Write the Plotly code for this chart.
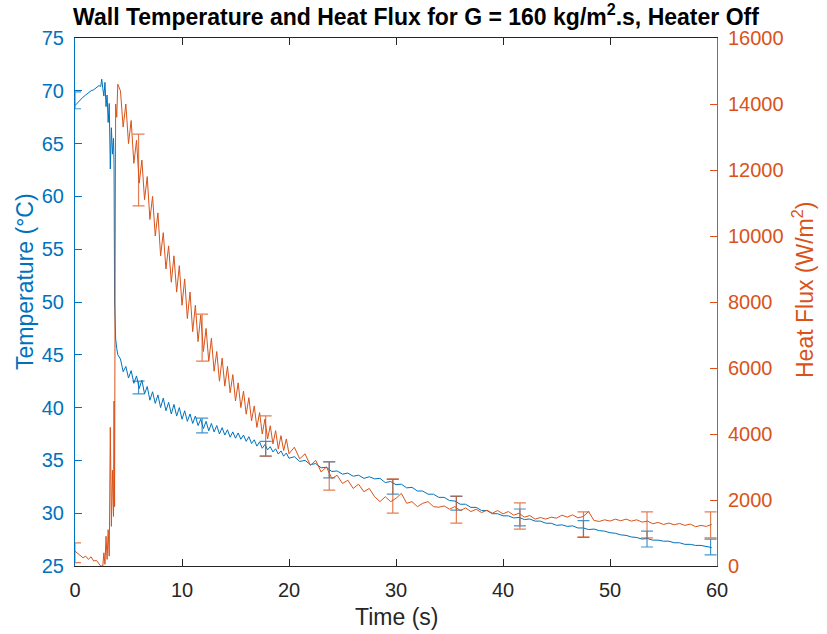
import plotly.graph_objects as go

# ---------------- data ----------------
time_A = [0.0, 0.25, 0.5, 0.75, 1.0, 1.25, 1.5, 1.75, 2.0, 2.25, 2.4, 2.5, 2.6, 2.7, 2.8,
          2.9, 3.0, 3.1, 3.2, 3.3, 3.4, 3.5, 3.6, 3.65, 3.7, 3.75, 3.8, 3.9, 4.0]
temp_A = [68.6, 68.9, 69.2, 69.4, 69.6, 69.8, 70.0, 70.1, 70.3, 70.5, 70.4, 71.1, 70.2, 69.5, 70.8,
          68.5, 69.6, 67.0, 68.8, 62.6, 66.5, 64.0, 65.5, 63.0, 50.0, 47.5, 46.5, 45.6, 45.0]
flux_A = [450, 380, 330, 250, 300, 200, 280, 150, 170, 60, 0, 0, 0, 400, 50,
          900, 200, 1100, 300, 4200, 1200, 2900, 1500, 5000, 1800, 9000, 14000, 13600, 14600]

time_B = [4.25, 4.5, 4.75, 5.0, 5.25, 5.5, 5.75, 6.0, 6.25, 6.5, 6.75, 7.0, 7.25, 7.5, 7.75, 8.0,
          8.25, 8.5, 8.75, 9.0, 9.25, 9.5, 9.75, 10.0, 10.25, 10.5, 10.75, 11.0, 11.25, 11.5, 11.75, 12.0,
          12.25, 12.5, 12.75, 13.0, 13.25, 13.5, 13.75, 14.0, 14.25, 14.5, 14.75, 15.0, 15.25, 15.5, 15.75, 16.0,
          16.25, 16.5, 16.75, 17.0, 17.25, 17.5, 17.75, 18.0, 18.25, 18.5, 18.75, 19.0, 19.25, 19.5, 19.75, 20.0]
temp_B = [44.6, 43.4, 43.9, 42.8, 43.5, 42.3, 43.0, 41.8, 42.6, 41.3,
          42.0, 40.7, 41.5, 40.4, 41.2, 40.0, 40.9, 39.7, 40.5, 39.4,
          40.3, 39.2, 40.0, 38.9, 39.7, 38.7, 39.4, 38.5, 39.2, 38.3,
          38.9, 38.0, 38.7, 37.8, 38.5, 37.7, 38.3, 37.5, 38.1, 37.4,
          37.9, 37.2, 37.7, 37.1, 37.6, 37.0, 37.4, 36.8, 37.25, 36.6,
          36.95, 36.35, 36.75, 36.15, 36.5, 36.0, 36.3, 35.8, 36.1, 35.6,
          35.9, 35.4, 35.7, 35.2]
flux_B = [14400, 13300, 14000, 12800, 13500, 12200, 12900, 11600, 12300, 11100,
          11800, 10500, 11200, 10000, 10700, 9400, 10100, 9000, 9700, 8600,
          9400, 8300, 9100, 7900, 8700, 7500, 8300, 7100, 7900, 6800,
          7600, 6500, 7200, 6200, 6900, 5900, 6500, 5600, 6300, 5450,
          6050, 5250, 5800, 5000, 5550, 4800, 5300, 4600, 5100, 4400,
          4850, 4200, 4650, 4000, 4450, 3850, 4250, 3700, 4100, 3550,
          3950, 3500, 3850, 3400]

time_C = [20.5, 21.0, 21.5, 22.0, 22.5, 23.0, 23.5, 24.0, 24.5, 25.0, 25.5, 26.0, 26.5, 27.0, 27.5,
          28.0, 28.5, 29.0, 29.5, 30.0, 30.5, 31.0, 31.5, 32.0, 32.5, 33.0, 33.5, 34.0, 34.5, 35.0,
          35.5, 36.0, 36.5, 37.0, 37.5, 38.0, 38.5, 39.0, 39.5, 40.0, 40.5, 41.0, 41.5, 42.0, 42.5,
          43.0, 43.5, 44.0, 44.5, 45.0, 45.5, 46.0, 46.5, 47.0, 47.5, 48.0, 48.5, 49.0, 49.5, 50.0,
          50.5, 51.0, 51.5, 52.0, 52.5, 53.0, 53.5, 54.0, 54.5, 55.0, 55.5, 56.0, 56.5, 57.0, 57.5,
          58.0, 58.5, 59.0, 59.5]
temp_C = [35.35, 34.9, 35.0, 34.6, 34.7, 34.3, 34.35, 33.95, 34.0, 33.7, 33.8, 33.5, 33.6, 33.3, 33.45,
          33.25, 33.3, 32.9, 33.0, 32.7, 32.75, 32.4, 32.45, 32.1, 32.1, 31.8, 31.8, 31.5, 31.5, 31.2,
          31.15, 30.85, 30.85, 30.55, 30.55, 30.25, 30.25, 29.95, 29.95, 29.75, 29.75, 29.55, 29.6, 29.4, 29.45,
          29.25, 29.25, 29.05, 29.05, 28.85, 28.9, 28.75, 28.8, 28.6, 28.6, 28.45, 28.5, 28.35, 28.3, 28.15,
          28.1, 27.95, 27.9, 27.75, 27.7, 27.55, 27.6, 27.45, 27.45, 27.35, 27.35, 27.2, 27.2, 27.05, 27.05,
          26.95, 26.95, 26.85, 26.75]
flux_C = [3600, 3250, 3400, 3050, 3200, 2850, 3000, 2650, 2750, 2500, 2600, 2350, 2480, 2250, 2350,
          2100, 1950, 2100, 1950, 2050, 2200, 1900, 1950, 1800, 1900, 1950, 1800, 1780, 1820, 1720,
          1800, 1680, 1760, 1650, 1720, 1620, 1690, 1600, 1680, 1580, 1650, 1540, 1600, 1480, 1530,
          1420, 1470, 1420, 1480, 1450, 1540, 1480, 1550, 1460, 1500, 1650, 1380, 1350, 1400, 1360,
          1420, 1370, 1420, 1360, 1400, 1330, 1360, 1280, 1320, 1260, 1300, 1250, 1290, 1230, 1270,
          1190, 1230, 1200, 1260]

# error bars
err_time = [0.0, 5.94, 11.88, 17.82, 23.76, 29.7, 35.64, 41.58, 47.52, 53.46, 59.4]
err_temp_mean = [69.1, 41.9, 38.3, 36.1, 34.1, 32.5, 30.95, 29.6, 28.5, 27.55, 26.8]
err_temp_half = [0.8, 0.6, 0.7, 0.7, 0.75, 0.7, 0.65, 0.8, 0.8, 0.75, 0.75]
err_flux_mean = [400, 12000, 6920, 3940, 2730, 2120, 1710, 1515, 1260, 1245, 1245]
err_flux_half = [300, 1090, 710, 610, 430, 520, 410, 395, 380, 395, 395]

time_s = time_A + time_B + time_C
temperature_C = temp_A + temp_B + temp_C
heat_flux = flux_A + flux_B + flux_C

BLUE = "#0072BD"
ORANGE = "#D95319"
FONT = "Liberation Sans, Arial, sans-serif"

fig = go.Figure()
fig.add_trace(go.Scatter(x=time_s, y=temperature_C, mode="lines",
                         line=dict(color=BLUE, width=1), yaxis="y", showlegend=False))
fig.add_trace(go.Scatter(x=err_time, y=err_temp_mean, mode="markers",
                         marker=dict(size=1, opacity=0, color=BLUE),
                         error_y=dict(type="data", array=err_temp_half, visible=True,
                                      color="rgba(0,114,189,0.75)", thickness=1.2, width=6),
                         yaxis="y", showlegend=False))
fig.add_trace(go.Scatter(x=time_s, y=heat_flux, mode="lines",
                         line=dict(color=ORANGE, width=1), yaxis="y2", showlegend=False))
fig.add_trace(go.Scatter(x=err_time, y=err_flux_mean, mode="markers",
                         marker=dict(size=1, opacity=0, color=ORANGE),
                         error_y=dict(type="data", array=err_flux_half, visible=True,
                                      color="rgba(217,83,25,0.75)", thickness=1.2, width=6),
                         yaxis="y2", showlegend=False))

# plot-area geometry in pixels (used only to place the axis-title annotations)
pl, pr, pt, pb = 75, 827 - 110, 38, 634 - 68
pw, ph = pr - pl, pb - pt

fig.update_layout(
    width=827, height=634,
    margin=dict(l=75, r=110, t=38, b=68),
    paper_bgcolor="white", plot_bgcolor="white",
    font=dict(family=FONT, size=20, color="#262626"),
    title=dict(text="<b>Wall Temperature and Heat Flux for G = 160 kg/m<sup>2</sup>.s, Heater Off</b>",
               x=0.503, xref="container", xanchor="center",
               y=1 - 16.5 / 634, yref="container", yanchor="middle",
               font=dict(family=FONT, size=23, color="black")),
    xaxis=dict(range=[0, 60], dtick=10, tick0=0, ticks="inside", ticklen=7,
               tickcolor="#262626", showline=True, linecolor="#262626", linewidth=1,
               mirror="ticks", showgrid=False, zeroline=False,
               tickfont=dict(size=20, color="#262626"), ticklabelstandoff=6),
    yaxis=dict(range=[25, 75], dtick=5, tick0=25, ticks="inside", ticklen=7,
               tickcolor=BLUE, showline=True, linecolor=BLUE, linewidth=1,
               showgrid=False, zeroline=False,
               tickfont=dict(size=20, color=BLUE), ticklabelstandoff=6),
    yaxis2=dict(range=[0, 16000], dtick=2000, tick0=0, ticks="inside", ticklen=7,
                tickcolor=ORANGE, showline=True, linecolor=ORANGE, linewidth=1,
                overlaying="y", side="right", showgrid=False, zeroline=False,
                tickformat="d",
                tickfont=dict(size=20, color=ORANGE), ticklabelstandoff=6),
    annotations=[
        dict(text="Time (s)", x=0.5, xref="paper", y=(pb - 617) / ph, yref="paper",
             yanchor="middle", xanchor="center", showarrow=False,
             font=dict(family=FONT, size=23, color="#262626")),
        dict(text="Temperature (°C)", x=(25 - pl) / pw, xref="paper", y=(pb - 282) / ph, yref="paper",
             textangle=-90, showarrow=False, xanchor="center", yanchor="middle",
             font=dict(family=FONT, size=23, color=BLUE)),
        dict(text="Heat Flux (W/m<sup>2</sup>)", x=(803 - pl) / pw, xref="paper", y=(pb - 290) / ph,
             yref="paper", textangle=-90, showarrow=False, xanchor="center", yanchor="middle",
             font=dict(family=FONT, size=23, color=ORANGE)),
    ],
)

fig.write_html("out.html")
